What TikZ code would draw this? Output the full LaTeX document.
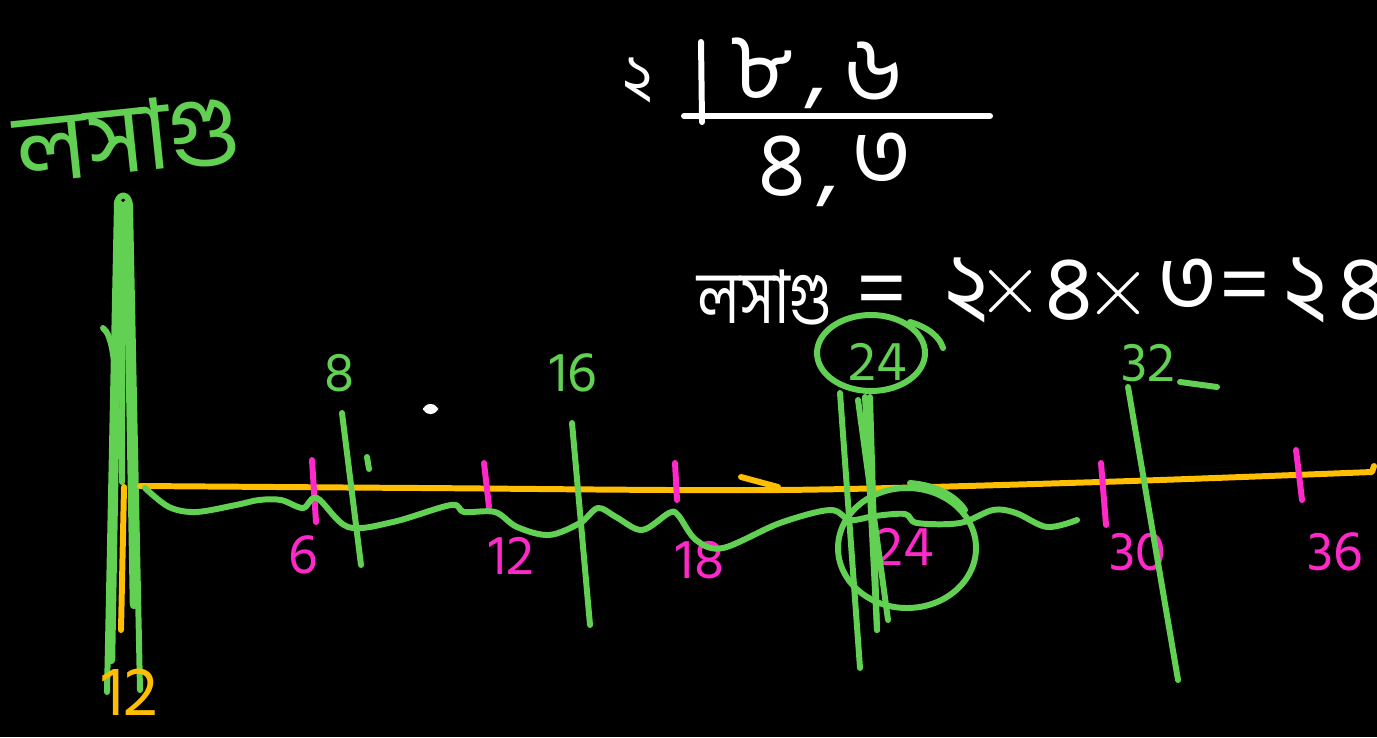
\documentclass[tikz,border=0pt]{standalone}
\usepackage{fontspec}
\setmainfont{Hind Siliguri}
\newfontfamily\bnfont[Script=Bengali]{Hind Siliguri}
\usetikzlibrary{positioning}
\definecolor{penGreen}{RGB}{98,208,82}
\definecolor{penOrange}{RGB}{255,190,0}
\definecolor{penPink}{RGB}{255,40,200}

\begin{document}
\begin{tikzpicture}[
    x=0.01cm, y=-0.01cm,
    pen/.style={line width=1.7pt, line cap=round, line join=round},
    gpen/.style={pen, draw=penGreen},
    opPen/.style={pen, draw=penOrange},
    ppen/.style={pen, draw=penPink},
    wpen/.style={pen, draw=white},
    glbl/.style={inner sep=0pt, text=penGreen, font=\fontsize{16}{16}\selectfont},
    plbl/.style={inner sep=0pt, text=penPink, font=\fontsize{16}{16}\selectfont},
    wbn/.style={inner sep=0pt, text=white, font=\bnfont\fontsize{26}{26}\selectfont}
  ]

  % board
  \fill[black] (0,0) rectangle (1377,737);
  \useasboundingbox (0,0) rectangle (1377,737);

  % heading
  \node[inner sep=0pt, text=penGreen, font=\bnfont\fontsize{28}{28}\selectfont, rotate=6] (lcmTitle) at (128,138) {লসাগু};

  % division
  \node[wbn, font=\bnfont\fontsize{18}{18}\selectfont] (divisor) at (638,80) {২};
  \node[wbn] (dvdA) at (762,68) {৮};
  \node[wbn] (dvdB) at (873,72) {৬};
  \node[wbn] (commaA) [right=3pt of dvdA.base east, anchor=base west] {,};
  \draw[wpen] (701,42) -- (702,122);
  \draw[wpen] (684,116) -- (990,116);
  \node[wbn] (quoA) at (782,166) {৪};
  \node[wbn] (quoB) at (882,160) {৩};
  \node[wbn] (commaB) [right=3pt of quoA.base east, anchor=base west] {,};

  % result
  \node[wbn, font=\bnfont\fontsize{21}{21}\selectfont, xscale=0.8] (lcmWord) at (765,298) {লসাগু};
  \node[wbn, font=\fontsize{26}{26}\selectfont] (eqA) at (882,298) {=};
  \node[wbn] (facA) at (967,290) {২};
  \node[wbn, font=\fontsize{26}{26}\selectfont] (mulA) at (1011,292) {$\times$};
  \node[wbn] (facB) at (1069,290) {৪};
  \node[wbn, font=\fontsize{26}{26}\selectfont] (mulB) at (1118,294) {$\times$};
  \node[wbn] (facC) at (1188,286) {৩};
  \node[wbn, font=\fontsize{26}{26}\selectfont] (eqB) at (1245,294) {=};
  \node[wbn] (resA) at (1306,290) {২};
  \node[wbn] (resB) at (1362,290) {৪};

  % left bar
  \draw[gpen] (117,202) -- (107,692);
  \draw[gpen] (117,202) .. controls (120,192) and (129,194) .. (130,205) -- (140,690);
  \draw[gpen, line width=2.4pt] (119,204) -- (111,660);
  \draw[gpen, line width=2.4pt] (127,204) -- (134,605);
  \draw[gpen] (123,205) -- (122,482);
  \draw[gpen] (103,328) .. controls (112,335) and (116,360) .. (117,420);
  \draw[opPen] (124,487) -- (121,630);
  \node[inner sep=0pt, text=penOrange, font=\fontsize{20}{20}\selectfont] (twelveO) at (130,692) {12};

  % number line
  \draw[opPen] plot[smooth, tension=0.5] coordinates {(140,486) (420,488) (780,490) (1100,482) (1372,472)} -- (1374,466);
  \draw[opPen] (741,477) -- (778,487);

  % multiples of 6
  \draw[ppen] (312,460) -- (316,522);
  \draw[ppen] (484,463) -- (489,507);
  \draw[ppen] (675,463) -- (677,500);
  \draw[ppen] (1101,463) -- (1106,525);
  \draw[ppen] (1296,450) -- (1302,500);
  \node[plbl] (six) at (303,555) {6};
  \node[plbl] (twelve) at (511,556) {12};
  \node[plbl] (eighteen) at (700,560) {18};
  \node[plbl] (twentyfourP) at (905,547) {24};
  \node[plbl] (thirty) at (1138,552) {30};
  \node[plbl] (thirtysix) at (1335,552) {36};

  % multiples of 8
  \node[glbl] (eight) at (340,373) {8};
  \node[glbl] (sixteen) at (573,373) {16};
  \node[glbl] (twentyfourG) at (878,362) {24};
  \node[glbl] (thirtytwo) at (1148,363) {32};
  \draw[gpen] (342,413) -- (361,565);
  \draw[gpen] (572,423) -- (590,625);
  \draw[gpen] (1128,387) -- (1178,680);
  \draw[gpen] (1180,382) -- (1217,387);
  \draw[gpen] (840,393) -- (860,668);
  \draw[gpen] (865,397) -- (877,630);
  \draw[gpen] (870,397) -- (877,630);
  \draw[gpen] (858,400) -- (888,620);
  \draw[gpen] (367,457) -- (369,469);
  \fill[white, rounded corners=2pt] (423,404) rectangle (438,414);

  % jumps
  \draw[gpen] plot[smooth, tension=0.55] coordinates {(145,488) (169,507) (196,512) (236,505) (259,500) (281,500) (303,508) (317,498) (348,527) (393,522) (451,505) (464,512) (495,512) (517,527) (549,535) (580,523) (598,508) (616,517) (642,530) (669,513) (678,515) (696,540) (723,548) (780,523) (830,510) (850,520) (875,516) (905,514) (917,523) (960,523) (993,510) (1016,513) (1047,527) (1077,520)};

  % common multiple
  \draw[gpen] (871,353) ellipse [x radius=54, y radius=38];
  \draw[gpen] (910,322) .. controls (930,328) and (940,338) .. (943,348);
  \draw[gpen] (907,548) ellipse [x radius=69, y radius=60];
  \draw[gpen] (910,483) .. controls (935,485) and (955,495) .. (965,510);

\end{tikzpicture}
\end{document}
